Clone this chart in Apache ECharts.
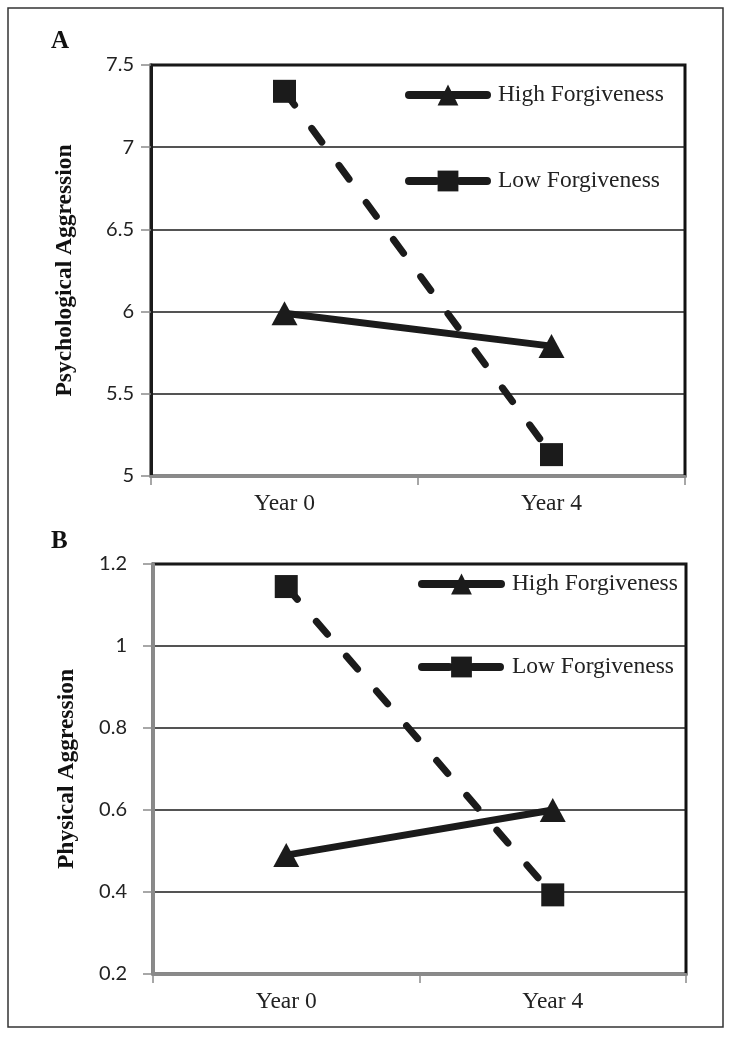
<!DOCTYPE html>
<html><head><meta charset="utf-8">
<script src="https://cdn.jsdelivr.net/npm/echarts@6/dist/echarts.min.js"></script>
<style>html,body{margin:0;padding:0;background:#fff}#c{width:734px;height:1038px}</style>
</head><body><div id="c"></div>
<script>
// ---- data ----
const categories = ['Year 0', 'Year 4'];
const seriesNames = ['High Forgiveness', 'Low Forgiveness'];
const psychHigh = [5.99, 5.79];
const psychLow = [7.34, 5.13];
const physHigh = [0.49, 0.60];
const physLow = [1.145, 0.393];
const psychTicks = [5, 5.5, 6, 6.5, 7, 7.5];
const physTicks = [0.2, 0.4, 0.6, 0.8, 1.0, 1.2];
const panelLabels = ['A', 'B'];
const yNames = ['Psychological Aggression', 'Physical Aggression'];

// ---- styles ----
const INK = '#1b1b1b';
const GRAY = '#8a8a8a';
const SERIF = '"Liberation Serif", "Times New Roman", serif';
const SANS = 'Lato, "Open Sans", sans-serif';
const DASH = [17, 29];

function yAxisFor(ticks, gridIndex, name, axisColor, margin) {
  return {
    type: 'value', gridIndex: gridIndex,
    min: ticks[0], max: ticks[ticks.length - 1], interval: ticks[1] - ticks[0],
    name: name, nameLocation: 'middle', nameGap: 74,
    nameTextStyle: { fontFamily: SERIF, fontWeight: 'bold', fontSize: 23.5, color: '#111' },
    axisLine: { show: true, lineStyle: { color: axisColor, width: 3 } },
    axisTick: { show: true, length: 10, lineStyle: { color: GRAY, width: 1.5 } },
    axisLabel: { fontFamily: SANS, fontSize: 20, color: '#222', margin: margin },
    splitLine: { show: true, lineStyle: { color: INK, width: 1.5 } }
  };
}
function xAxisFor(gridIndex) {
  return {
    type: 'category', gridIndex: gridIndex, data: categories, boundaryGap: true,
    axisLine: { show: true, lineStyle: { color: GRAY, width: 3 } },
    axisTick: { show: true, length: 9, alignWithLabel: false, lineStyle: { color: GRAY, width: 1.5 } },
    axisLabel: { fontFamily: SERIF, fontSize: 23.5, color: '#222', margin: 16 },
    splitLine: { show: false }
  };
}
function seriesFor(idx, high, low) {
  return [
    { name: seriesNames[0], type: 'line', xAxisIndex: idx, yAxisIndex: idx, data: high,
      symbol: 'triangle', symbolSize: [26, 24], z: 3,
      lineStyle: { color: INK, width: 7, cap: 'round' }, itemStyle: { color: INK } },
    { name: seriesNames[1], type: 'line', xAxisIndex: idx, yAxisIndex: idx, data: low,
      symbol: 'rect', symbolSize: 23, z: 2,
      lineStyle: { color: INK, width: 7, type: DASH, cap: 'round' }, itemStyle: { color: INK } }
  ];
}
function legendFor(left, top, gap, width) {
  return {
    orient: 'vertical', left: left, top: top, padding: 0,
    itemWidth: width, itemHeight: 26, itemGap: gap,
    selectedMode: false,
    formatter: ' {name}',
    textStyle: { fontFamily: SERIF, fontSize: 23.5, color: '#222' },
    lineStyle: { width: 8 },
    data: [
      { name: seriesNames[0], lineStyle: { type: 'solid', width: 8, cap: 'round' } },
      { name: seriesNames[1], lineStyle: { type: [27, 24], width: 8, cap: 'round' } }
    ]
  };
}

const chart = echarts.init(document.getElementById('c'), null, { renderer: 'canvas' });
chart.setOption({
  animation: false,
  backgroundColor: '#fff',
  graphic: [{ type: 'rect', shape: { x: 8, y: 8, width: 715, height: 1019 },
    style: { fill: 'none', stroke: '#333', lineWidth: 1.5 }, silent: true }],
  title: [
    { text: panelLabels[0], left: 46, top: 24, textStyle: { fontFamily: SERIF, fontWeight: 'bold', fontSize: 25, color: '#111' } },
    { text: panelLabels[1], left: 46, top: 524, textStyle: { fontFamily: SERIF, fontWeight: 'bold', fontSize: 25, color: '#111' } }
  ],
  legend: [legendFor(405, 83, 62, 78), legendFor(418, 572, 59, 79)],
  grid: [
    { left: 151, top: 65, width: 534, height: 411, show: true, borderColor: '#111', borderWidth: 3, backgroundColor: 'transparent' },
    { left: 153, top: 564, width: 533, height: 410, show: true, borderColor: '#111', borderWidth: 3, backgroundColor: 'transparent' }
  ],
  xAxis: [xAxisFor(0), xAxisFor(1)],
  yAxis: [yAxisFor(psychTicks, 0, yNames[0], INK, 17), yAxisFor(physTicks, 1, yNames[1], GRAY, 26)],
  series: seriesFor(0, psychHigh, psychLow).concat(seriesFor(1, physHigh, physLow))
});
</script></body></html>
